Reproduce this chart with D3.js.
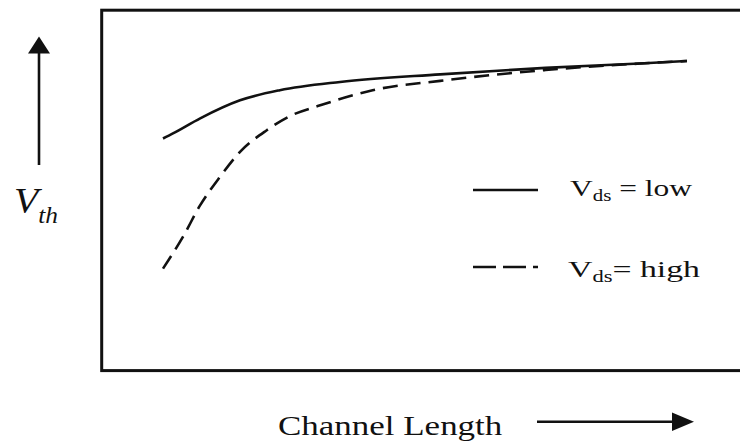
<!DOCTYPE html>
<html>
<head>
<meta charset="utf-8">
<script src="https://cdn.jsdelivr.net/npm/d3@7"></script>
<style>
  html, body { margin: 0; padding: 0; background: #fff; }
  svg { display: block; }
  text { font-family: "Liberation Serif", "Times New Roman", serif; fill: #111; }
</style>
</head>
<body>
<svg id="chart" width="740" height="441"></svg>
<script>
// Channel length (arbitrary units) sampled along each curve
const lengthLow  = [0, 0.19, 0.71, 1.47, 2.23, 3.38, 5.29, 7.30, 9.10, 10];
const vthLow     = [6.44, 6.58, 7.00, 7.50, 7.78, 8.01, 8.22, 8.40, 8.52, 8.59];

const lengthHigh = [0, 0.38, 0.71, 1.09, 1.47, 1.98, 2.42, 3.00, 4.00, 5.29, 7.30, 9.10, 10];
const vthHigh    = [2.83, 3.71, 4.59, 5.38, 6.07, 6.67, 7.06, 7.36, 7.78, 8.04, 8.34, 8.52, 8.59];

const seriesNames = ["low", "high"];

const svg = d3.select("#chart");
const ink = "#111";

const x = d3.scaleLinear().domain([0, 10]).range([163, 687]);
const y = d3.scaleLinear().domain([0, 10]).range([370.6, 10.2]);

// Frame (right edge runs past the canvas)
svg.append("rect")
  .attr("x", 101.7).attr("y", 10.2)
  .attr("width", 700).attr("height", 360.4)
  .attr("fill", "none").attr("stroke", ink).attr("stroke-width", 3);

const line = d3.line()
  .x(d => x(d[0])).y(d => y(d[1]))
  .curve(d3.curveMonotoneX);

const lowPts = lengthLow.map((l, i) => [l, vthLow[i]]);
const highPts = lengthHigh.map((l, i) => [l, vthHigh[i]]);

svg.append("path").datum(highPts)
  .attr("d", line).attr("fill", "none")
  .attr("stroke", ink).attr("stroke-width", 2.6)
  .attr("stroke-dasharray", "15,8");

svg.append("path").datum(lowPts)
  .attr("d", line).attr("fill", "none")
  .attr("stroke", ink).attr("stroke-width", 2.6);

// Legend
const legend = svg.append("g");
legend.append("line")
  .attr("x1", 473).attr("x2", 538).attr("y1", 190).attr("y2", 190)
  .attr("stroke", ink).attr("stroke-width", 2.6);
legend.append("line")
  .attr("x1", 473).attr("x2", 538).attr("y1", 267).attr("y2", 267)
  .attr("stroke", ink).attr("stroke-width", 2.6)
  .attr("stroke-dasharray", "23,7");

// Draws text at a baseline and stretches it horizontally to a target width
function stretchedText(left, baseline, width, build) {
  const g = svg.append("g");
  const t = g.append("text").attr("x", 0).attr("y", 0);
  build(t);
  const bb = t.node().getBBox();
  const sx = width / bb.width;
  g.attr("transform", `translate(${left - bb.x * sx},${baseline}) scale(${sx},1)`);
  return g;
}

function vdsLabel(sep, name) {
  return t => {
    t.attr("font-size", 24);
    t.append("tspan").text("V");
    t.append("tspan").attr("font-size", 16).attr("dy", 5).text("ds");
    t.append("tspan").attr("dy", -5).text(sep + name);
  };
}

stretchedText(570, 196, 123, vdsLabel(" = ", seriesNames[0]));
stretchedText(568, 277, 132, vdsLabel("= ", seriesNames[1]));

// Axis titles
stretchedText(278, 435, 225, t => {
  t.attr("font-size", 27).text("Channel Length");
});

stretchedText(14, 213, 44, t => {
  t.attr("font-size", 36).attr("font-style", "italic");
  t.append("tspan").text("V");
  t.append("tspan").attr("font-size", 23).attr("dy", 10).text("th");
});

// Direction arrows
svg.append("line")
  .attr("x1", 39).attr("x2", 39).attr("y1", 165).attr("y2", 52)
  .attr("stroke", ink).attr("stroke-width", 2.6);
svg.append("path")
  .attr("d", d3.line()([[28, 53.5], [50, 53.5], [39, 36.5]]) + "Z")
  .attr("fill", ink);

svg.append("line")
  .attr("x1", 537).attr("x2", 674).attr("y1", 421.7).attr("y2", 421.7)
  .attr("stroke", ink).attr("stroke-width", 2.6);
svg.append("path")
  .attr("d", d3.line()([[672, 412.5], [672, 431], [694, 421.7]]) + "Z")
  .attr("fill", ink);
</script>
</body>
</html>
